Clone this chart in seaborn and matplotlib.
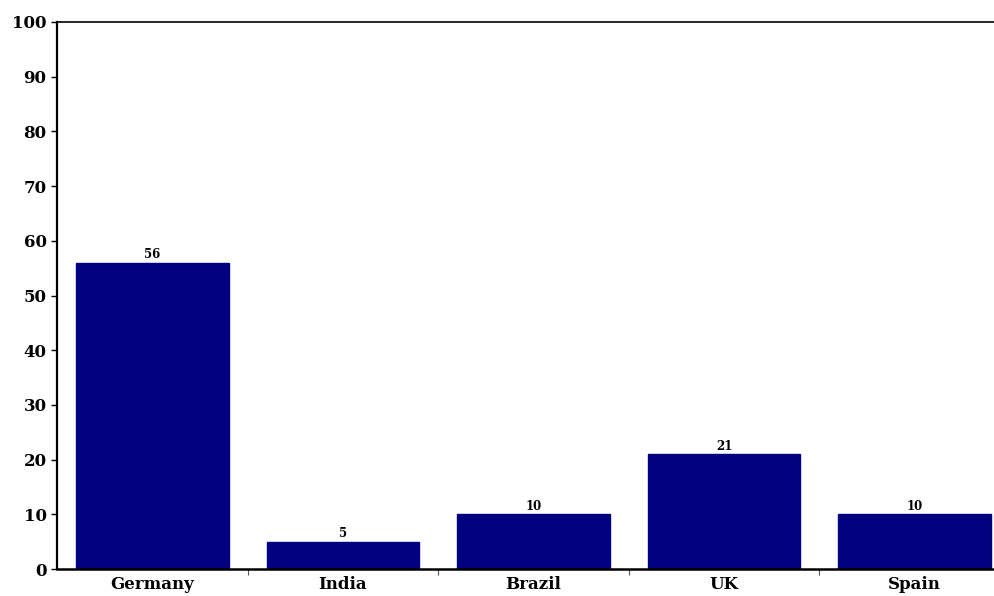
import matplotlib
matplotlib.use("Agg")
import matplotlib.pyplot as plt
import seaborn as sns
import pandas as pd
from matplotlib.ticker import FixedLocator

countries = ["Germany", "India", "Brazil", "UK", "Spain"]
values = [56, 5, 10, 21, 10]
y_ticks = [0, 10, 20, 30, 40, 50, 60, 70, 80, 90, 100]

sns.set_style("white")
plt.rcParams["font.family"] = ["DejaVu Serif", "Liberation Serif"]
plt.rcParams["font.weight"] = "bold"
plt.rcParams["text.color"] = "black"
plt.rcParams["xtick.color"] = "black"
plt.rcParams["ytick.color"] = "black"

df = pd.DataFrame({"country": countries, "value": values})

fig = plt.figure(figsize=(9.94, 5.96), dpi=100)
ax = fig.add_axes([57 / 994, 1 - 569 / 596, (1010 - 57) / 994, (569 - 22) / 596])

sns.barplot(data=df, x="country", y="value", color="#000080", saturation=1,
            width=0.8, ax=ax, edgecolor="#000080")

ax.set_xlim(-0.5, len(countries) - 0.5)
ax.set_ylim(0, 100)
ax.set_yticks(y_ticks)
ax.set_xlabel("")
ax.set_ylabel("")

for s in ["left", "bottom", "top", "right"]:
    ax.spines[s].set_visible(True)
    ax.spines[s].set_color("black")
ax.spines["left"].set_linewidth(1.6)
ax.spines["bottom"].set_linewidth(1.8)
ax.spines["top"].set_linewidth(1.2)

ax.tick_params(axis="y", direction="out", length=4.5, width=1, pad=3, labelsize=12, left=True)
ax.tick_params(axis="x", which="major", length=0, pad=5, labelsize=12)
ax.xaxis.set_minor_locator(FixedLocator([i + 0.5 for i in range(len(countries) - 1)]))
ax.tick_params(axis="x", which="minor", direction="out", length=4, width=0.8, bottom=True, color="#555555")

for lbl in ax.get_xticklabels() + ax.get_yticklabels():
    lbl.set_fontweight("bold")
    lbl.set_color("black")

ax.bar_label(ax.containers[0], labels=[str(v) for v in values], padding=1,
             fontsize=8.5, fontweight="bold", color="black")

fig.savefig("out.png", dpi=100, facecolor="white")
